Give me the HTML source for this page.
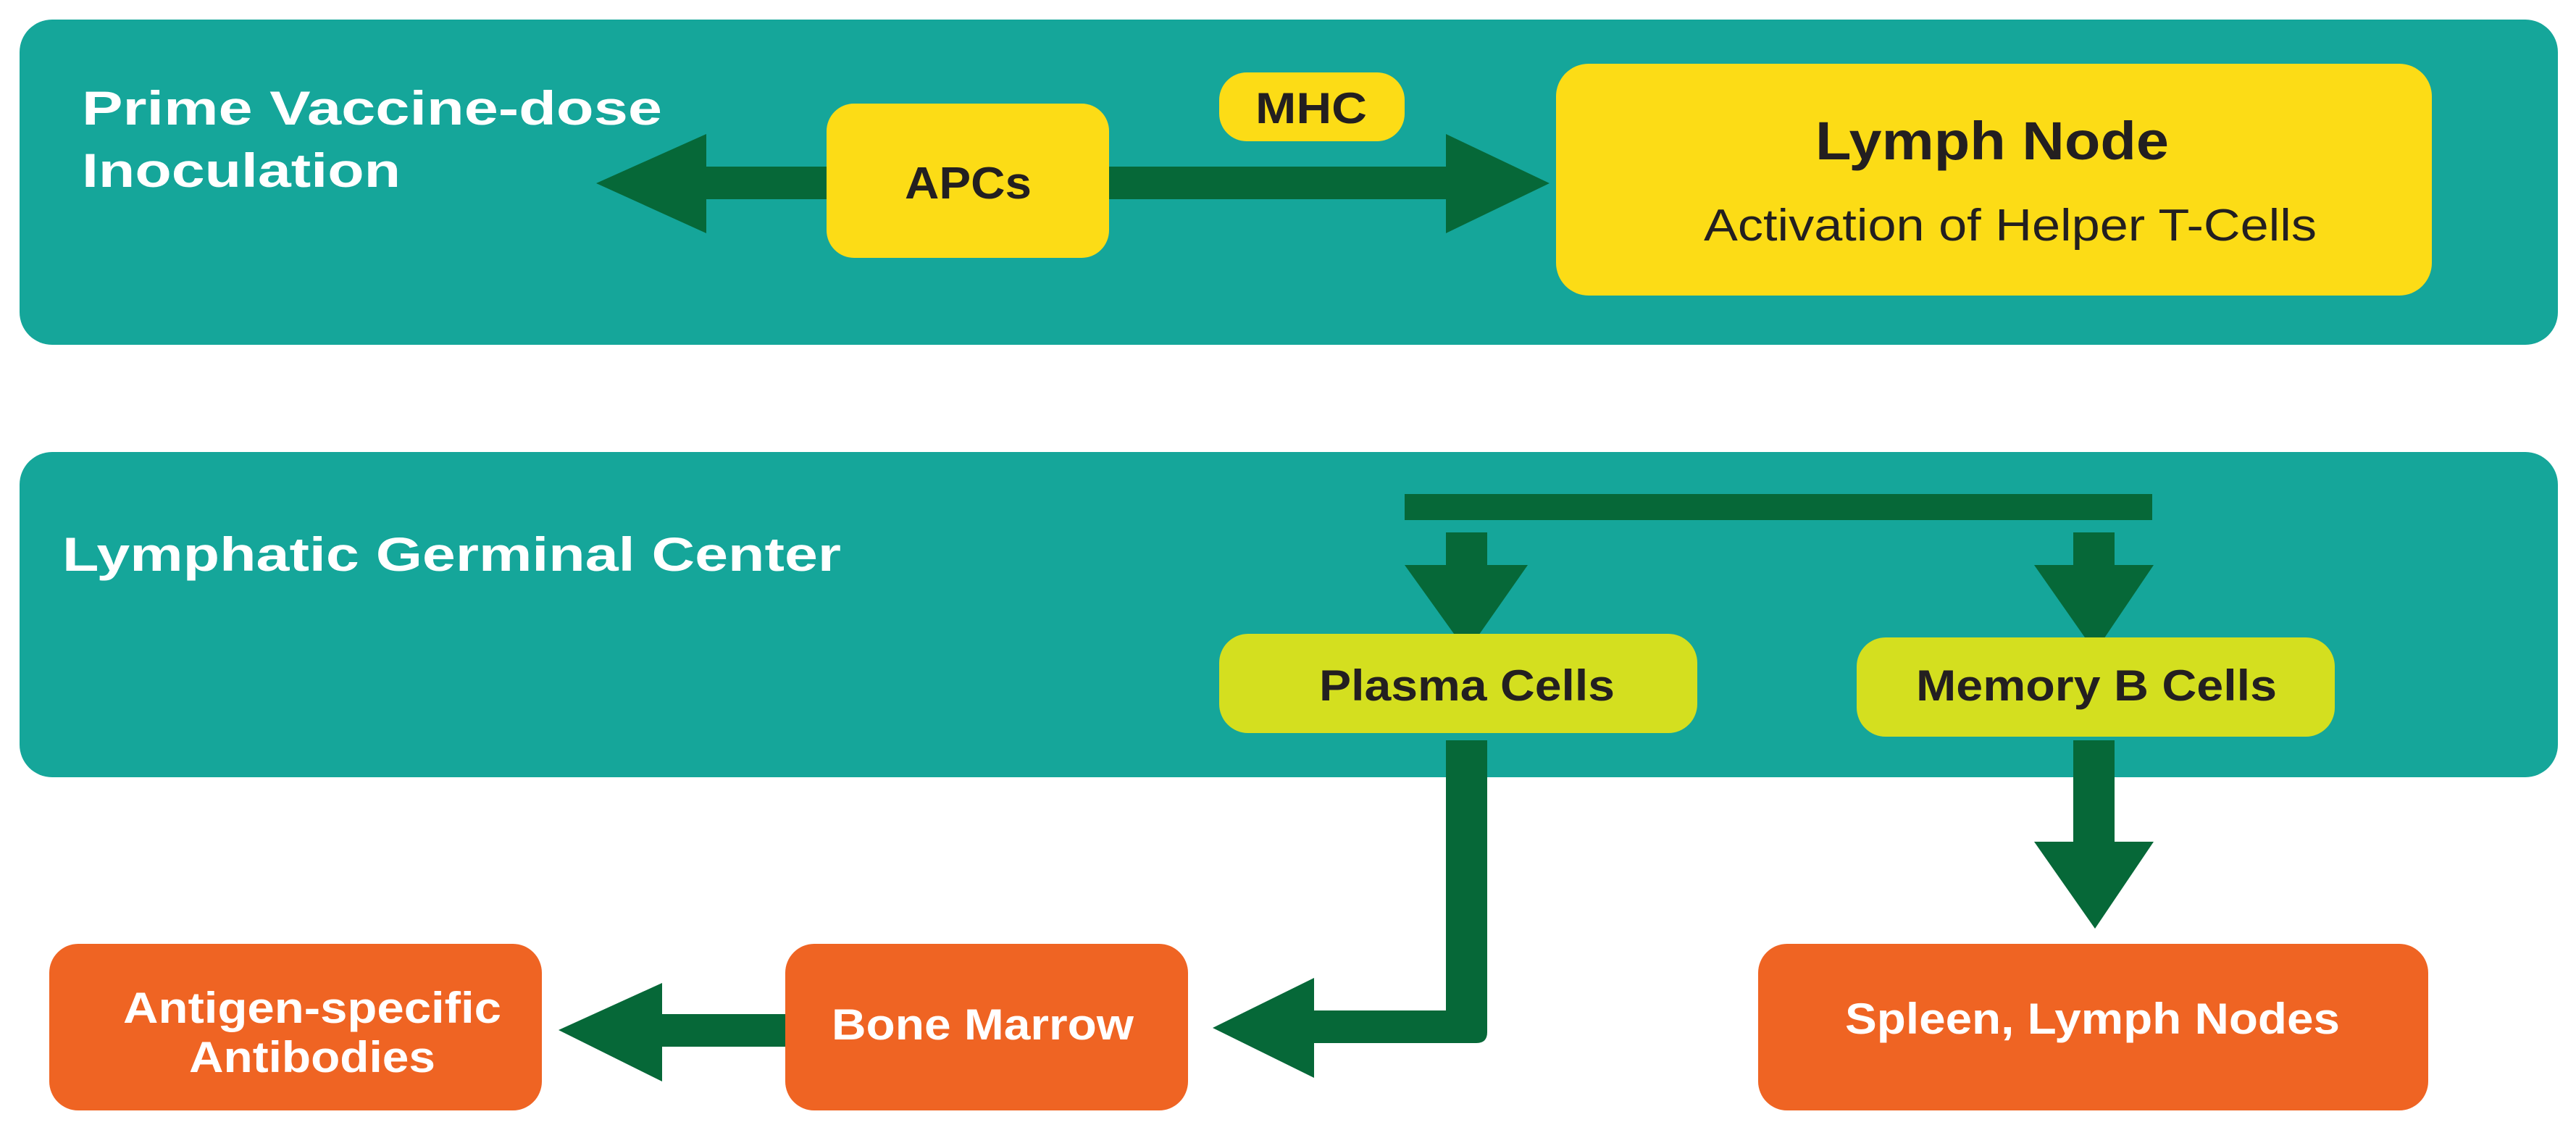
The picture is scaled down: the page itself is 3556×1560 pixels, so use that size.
<!DOCTYPE html>
<html><head><meta charset="utf-8"><style>
html,body{margin:0;padding:0;background:#fff;width:3556px;height:1560px;overflow:hidden}
svg{display:block}
text{font-family:"Liberation Sans",sans-serif;font-weight:bold}
</style></head><body>
<svg width="3556" height="1560" viewBox="0 0 3556 1560" xmlns="http://www.w3.org/2000/svg">
<rect x="27" y="27" width="3504" height="449" rx="45" fill="#15a69a"/>
<rect x="27" y="624" width="3504" height="449" rx="45" fill="#15a69a"/>

<rect x="975" y="230" width="1021" height="45" fill="#066838"/>
<polygon points="823,253 975,185 975,322" fill="#066838"/>
<polygon points="2139,253 1996,185 1996,322" fill="#066838"/>

<rect x="1141" y="143" width="390" height="213" rx="38" fill="#fcdc16"/>
<rect x="1683" y="100" width="256" height="95" rx="38" fill="#fcdc16"/>
<rect x="2148" y="88" width="1209" height="320" rx="45" fill="#fcdc16"/>

<text x="113" y="172" font-size="66" fill="#fff" textLength="801" lengthAdjust="spacingAndGlyphs">Prime Vaccine-dose</text>
<text x="113" y="258" font-size="66" fill="#fff" textLength="440" lengthAdjust="spacingAndGlyphs">Inoculation</text>
<text x="1249" y="274" font-size="62" fill="#231f20" textLength="175" lengthAdjust="spacingAndGlyphs">APCs</text>
<text x="1733" y="170" font-size="60" fill="#231f20" textLength="154" lengthAdjust="spacingAndGlyphs">MHC</text>
<text x="2506" y="220" font-size="74" fill="#231f20" textLength="488" lengthAdjust="spacingAndGlyphs">Lymph Node</text>
<text x="2352" y="332" font-size="62" style="font-weight:normal" fill="#231f20" textLength="846" lengthAdjust="spacingAndGlyphs">Activation of Helper T-Cells</text>

<rect x="1939" y="682" width="1032" height="36" fill="#066838"/>
<rect x="1996" y="735" width="57" height="50" fill="#066838"/>
<polygon points="1939,780 2109,780 2025,900" fill="#066838"/>
<rect x="2862" y="735" width="57" height="50" fill="#066838"/>
<polygon points="2808,780 2973,780 2892,900" fill="#066838"/>

<rect x="1683" y="875" width="660" height="137" rx="40" fill="#d4df1f"/>
<rect x="2563" y="880" width="660" height="137" rx="40" fill="#d4df1f"/>
<text x="86" y="788" font-size="66" fill="#fff" textLength="1075" lengthAdjust="spacingAndGlyphs">Lymphatic Germinal Center</text>
<text x="1821" y="967" font-size="60" fill="#231f20" textLength="408" lengthAdjust="spacingAndGlyphs">Plasma Cells</text>
<text x="2645" y="967" font-size="60" fill="#231f20" textLength="498" lengthAdjust="spacingAndGlyphs">Memory B Cells</text>

<path d="M1996 1022 H2053 V1425 Q2053 1440 2038 1440 H1810 V1395 H1996 Z" fill="#066838"/>
<polygon points="1674,1419 1814,1350 1814,1488" fill="#066838"/>
<rect x="2862" y="1022" width="57" height="145" fill="#066838"/>
<polygon points="2808,1162 2973,1162 2892,1282" fill="#066838"/>
<rect x="910" y="1400" width="180" height="45" fill="#066838"/>
<polygon points="771,1422 914,1357 914,1493" fill="#066838"/>

<rect x="68" y="1303" width="680" height="230" rx="40" fill="#ef6423"/>
<rect x="1084" y="1303" width="556" height="230" rx="40" fill="#ef6423"/>
<rect x="2427" y="1303" width="925" height="230" rx="40" fill="#ef6423"/>
<text x="170" y="1412" font-size="60" fill="#fff" textLength="522" lengthAdjust="spacingAndGlyphs">Antigen-specific</text>
<text x="261" y="1480" font-size="60" fill="#fff" textLength="340" lengthAdjust="spacingAndGlyphs">Antibodies</text>
<text x="1148" y="1435" font-size="60" fill="#fff" textLength="417" lengthAdjust="spacingAndGlyphs">Bone Marrow</text>
<text x="2547" y="1427" font-size="60" fill="#fff" textLength="683" lengthAdjust="spacingAndGlyphs">Spleen, Lymph Nodes</text>
</svg>
</body></html>
